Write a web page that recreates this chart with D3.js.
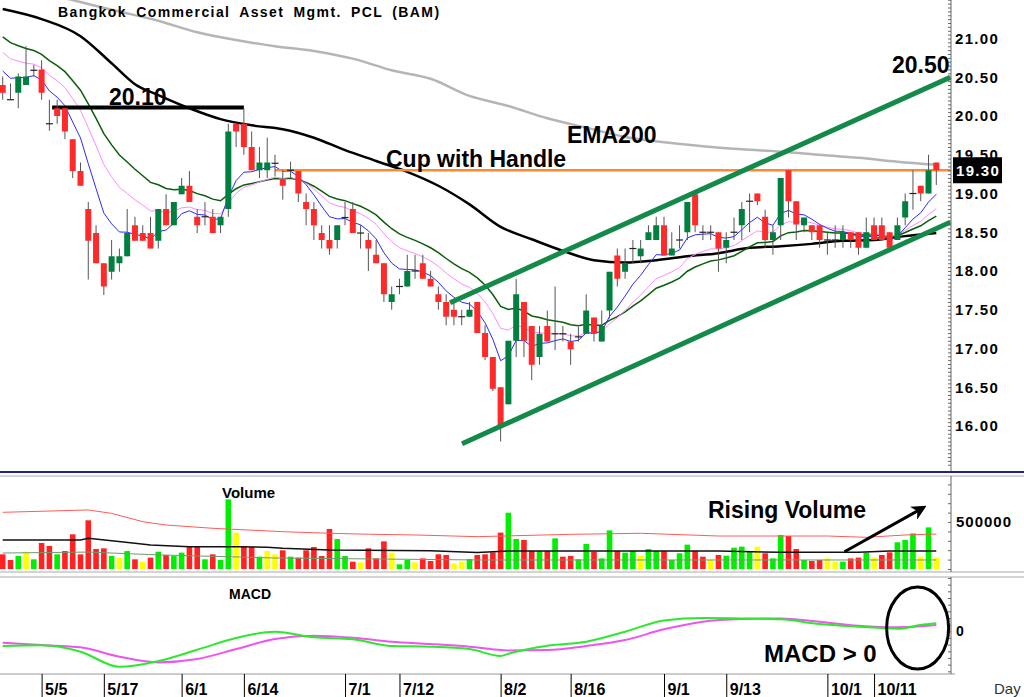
<!DOCTYPE html>
<html lang="en">
<head>
<meta charset="UTF-8">
<title>BAM daily chart</title>
<style>
  body { margin: 0; background: #fff; }
  svg { display: block; font-family: "Liberation Sans", Arial, sans-serif; }
  .axis text { font-weight: bold; fill: #000; }
</style>
</head>
<body>
<div id="chart"></div>
<script src="https://d3js.org/d3.v7.min.js"></script>
<script>
// candles (index 0 = first visible day)
const open = [20.40,20.21,20.30,20.40,20.59,20.60,19.90,20.10,20.10,19.70,19.29,18.80,18.49,18.10,17.99,18.10,18.19,18.59,18.49,18.49,
  18.39,18.80,18.59,18.99,19.10,18.70,18.70,18.70,18.59,18.80,19.90,19.90,19.60,19.30,19.30,19.39,19.18,19.30,19.29,18.89,
  18.80,18.49,18.40,18.40,18.69,18.80,18.49,18.40,18.21,18.10,17.60,17.80,17.80,18.00,18.10,17.90,17.70,17.60,17.50,17.41,
  17.41,17.60,17.20,16.89,16.50,16.28,17.10,17.60,17.29,16.89,17.29,17.19,17.19,17.09,17.15,17.19,17.40,17.09,17.49,18.20,
  17.99,18.29,18.19,18.40,18.40,18.59,18.20,18.40,18.50,18.99,18.50,18.50,18.50,18.30,18.50,18.59,18.90,19.00,18.70,18.40,
  18.59,19.30,18.90,18.59,18.59,18.59,18.40,18.40,18.40,18.50,18.50,18.30,18.59,18.59,18.50,18.40,18.69,19.00,19.10,19.00,19.40];
const high = [20.51,20.42,20.55,20.90,20.66,20.72,20.21,20.21,20.10,19.70,19.40,18.89,18.59,18.10,18.40,18.29,18.80,18.70,18.59,18.70,
  18.80,18.99,18.89,19.20,19.29,18.80,18.89,18.80,18.70,19.90,19.90,20.10,19.80,19.60,19.72,19.50,19.30,19.41,19.29,19.00,
  18.89,18.59,18.59,18.59,18.89,18.89,18.59,18.49,18.40,18.10,17.80,17.90,18.21,18.21,18.21,18.00,17.80,17.70,17.60,17.50,
  17.60,17.60,17.30,16.89,16.50,17.10,17.90,17.60,17.29,17.29,17.49,17.80,17.29,17.19,17.28,17.70,17.40,17.49,17.99,18.29,
  18.29,18.40,18.40,18.59,18.70,18.70,18.50,18.59,18.89,18.99,18.59,18.59,18.50,18.50,18.69,18.89,19.00,19.00,18.79,18.59,
  19.20,19.30,18.90,18.69,18.59,18.59,18.50,18.59,18.59,18.50,18.50,18.69,18.69,18.69,18.50,18.69,19.00,19.30,19.10,19.50,19.40];
const low = [20.21,20.21,20.10,20.40,20.51,20.21,19.81,19.90,19.70,19.20,19.10,17.89,18.10,17.69,17.89,17.99,18.19,18.39,18.39,18.29,
  18.29,18.59,18.59,18.99,18.89,18.49,18.59,18.49,18.49,18.70,19.60,19.50,19.30,19.20,19.20,19.22,18.92,19.20,18.89,18.59,
  18.40,18.29,18.21,18.29,18.59,18.49,18.29,18.00,18.10,17.60,17.50,17.70,17.80,17.90,17.90,17.80,17.50,17.30,17.30,17.30,
  17.41,17.20,16.85,16.45,15.80,16.28,16.89,16.89,16.59,16.79,17.09,16.98,17.09,16.79,17.09,17.19,17.09,17.09,17.39,17.80,
  17.90,18.10,18.10,18.40,18.40,18.20,18.20,18.29,18.40,18.50,18.40,18.40,17.99,18.10,18.40,18.40,18.50,18.85,18.30,18.21,
  18.40,18.69,18.40,18.50,18.40,18.30,18.21,18.30,18.30,18.30,18.21,18.30,18.40,18.40,18.30,18.40,18.59,18.79,18.90,19.00,19.11];
const close = [20.30,20.21,20.51,20.51,20.59,20.30,19.90,20.00,19.80,19.29,19.10,18.39,18.10,17.80,18.19,18.19,18.49,18.39,18.39,18.29,
  18.80,18.59,18.89,19.10,18.89,18.59,18.70,18.49,18.70,19.80,19.80,19.60,19.30,19.40,19.40,19.39,19.10,19.30,19.00,18.80,
  18.59,18.40,18.29,18.59,18.69,18.49,18.49,18.29,18.10,17.70,17.70,17.80,18.00,18.00,17.90,17.80,17.60,17.41,17.41,17.41,
  17.50,17.20,16.89,16.48,16.01,17.10,17.70,17.10,16.79,17.19,17.09,17.19,17.19,16.99,17.15,17.49,17.19,17.29,17.99,17.90,
  18.10,18.29,18.29,18.50,18.59,18.20,18.29,18.40,18.89,18.59,18.50,18.50,18.29,18.40,18.50,18.80,18.90,18.90,18.40,18.50,
  19.20,18.90,18.60,18.69,18.50,18.40,18.40,18.40,18.50,18.40,18.30,18.50,18.40,18.40,18.30,18.59,18.90,19.00,19.00,19.30,19.30];

// volume (shares) and bar colour code: r down, g up, y unchanged
const volume = [156,96,138,184,103,277,245,156,191,369,156,518,213,220,138,121,191,103,78,121,
  184,149,138,174,234,234,103,156,96,741,387,245,234,131,191,156,199,131,121,199,
  234,138,426,319,138,78,71,220,113,294,174,50,96,71,113,85,156,149,60,78,
  106,149,156,177,387,599,319,309,191,191,191,326,131,138,103,266,184,113,411,191,
  174,191,142,213,191,191,96,167,259,191,131,96,149,142,227,238,184,238,167,113,
  362,351,213,96,85,96,113,78,78,113,121,174,121,149,177,284,309,379,131,443,121].map(v => v * 1000);
const volColor = "rrgygrrgrr" + "rrrrgygryr" + "grggrrgrgg" + "yrrgyyrgrr" + "rrrggryrrr" + "yggyrrrryy" +
                 "grrrrggrrg" + "rgrrggrggr" + "ggyggrgggr" + "ryrggggyrg" + "grrgrryygr" + "rgyrrgggyg" + "y";

// long averages read at a few points (index, price)
const ema75Idx = [0,5,10,14,17,20,24,28,32,36,40,44,48,52,56,60,64,68,72,76,80,84,88,92,96,100,104,108,112,116,120];
const ema75Val = [21.38,21.25,21.03,20.68,20.41,20.27,20.10,19.96,19.88,19.83,19.72,19.56,19.42,19.28,19.10,18.86,18.57,18.41,18.26,18.14,18.11,18.14,18.19,18.23,18.30,18.32,18.35,18.39,18.40,18.45,18.49];
const ema200Idx = [6,10,14,20,25,30,35,40,45,50,55,60,65,70,75,80,85,90,95,100,105,110,115,120];
const ema200Val = [21.57,21.47,21.37,21.23,21.08,20.98,20.90,20.84,20.74,20.59,20.48,20.26,20.13,19.97,19.85,19.73,19.66,19.61,19.57,19.54,19.50,19.46,19.41,19.37];

// volume envelope lines
const volHiIdx = [0,11,14,18,21,27,36,42,47,53,61,73,82,92,106,111,116,120];
const volHi = [603,628,592,503,468,433,397,380,370,362,344,369,380,351,351,337,362,372].map(v => v * 1000);
const volMaIdx = [0,10,11,14,17,19,24,30,34,36,42,55,61,65,92,100,110,114,120];
const volMa = [308,308,326,300,273,255,237,237,231,220,202,195,176,191,191,178,178,191,191].map(v => v * 1000);
const volLoIdx = [0,11,20,35,61,120];
const volLo = [170,180,150,117,96,96].map(v => v * 1000);

// MACD and signal
const macdIdx = [0,5,10,15,20,25,30,35,40,45,50,55,60,64,65,70,75,80,85,90,95,100,105,110,115,118,120];
const macdVal = [-0.110,-0.105,-0.153,-0.266,-0.223,-0.138,-0.050,-0.003,-0.045,-0.060,-0.110,-0.115,-0.133,-0.185,-0.168,-0.108,-0.078,-0.003,0.082,0.100,0.097,0.090,0.055,0.035,0.020,0.047,0.060];
const signalIdx = [0,5,10,15,20,25,30,35,40,45,50,55,60,65,70,75,80,85,90,95,100,105,110,115,120];
const signalVal = [-0.085,-0.103,-0.120,-0.190,-0.233,-0.208,-0.133,-0.058,-0.033,-0.048,-0.078,-0.095,-0.115,-0.143,-0.140,-0.110,-0.065,0.015,0.072,0.092,0.097,0.072,0.042,0.030,0.047];

// date axis
const tickIdx = [5,13,23,31,44,51,64,73,85,93,106,112];
const tickLbl = ["5/5","5/17","6/1","6/14","7/1","7/12","8/2","8/16","9/1","9/13","10/1","10/11"];

// short EMAs seeded with the value shown on the first day
function ema(vals, n, seed) {
  const a = 2 / (n + 1);
  let e = seed;
  return vals.map((v, i) => i === 0 ? seed : (e = e + a * (v - e)));
}
const ema7 = ema(close, 7, 20.58);
const ema14 = ema(close, 14, 20.82);
const ema21 = ema(close, 21, 21.02);

const W = 1024, H = 697, axisX = 951;
const x = d3.scaleLinear().domain([0, 120]).range([2.7, 936.3]);
const y = d3.scaleLinear().domain([16, 21]).range([426, 38.5]);
const yV = d3.scaleLinear().domain([0, 500000]).range([569, 522]);
const yM = d3.scaleLinear().domain([-0.32, 0.40]).range([674, 578]);

const svg = d3.select("#chart").append("svg").attr("width", W).attr("height", H);

svg.append("defs").append("clipPath").attr("id", "priceClip")
  .append("rect").attr("x", 0).attr("y", 0).attr("width", axisX).attr("height", 471);
svg.select("defs").append("marker").attr("id", "arrow")
  .attr("viewBox", "0 0 10 10").attr("refX", 8).attr("refY", 5)
  .attr("markerWidth", 5).attr("markerHeight", 5).attr("orient", "auto")
  .append("path").attr("d", "M0,0 L10,5 L0,10 L3,5 z").attr("fill", "#000");

// panel frames
svg.append("line").attr("x1", 0).attr("x2", W).attr("y1", 472).attr("y2", 472).attr("stroke", "#23238c").attr("stroke-width", 2);
[476, 572, 577].forEach(v => svg.append("line").attr("x1", 0).attr("x2", W).attr("y1", v).attr("y2", v).attr("stroke", "#aaa"));
svg.append("line").attr("x1", 0).attr("x2", axisX + 4).attr("y1", 674).attr("y2", 674).attr("stroke", "#999");
[[0, 471], [476, 572], [577, 674]].forEach(r => svg.append("line").attr("x1", axisX).attr("x2", axisX)
  .attr("y1", r[0]).attr("y2", r[1]).attr("stroke", "#666"));

// ---------- price panel ----------
const price = svg.append("g").attr("clip-path", "url(#priceClip)");
const lineIdx = (ys) => d3.line().x((d, i) => x(i)).y((d) => ys(d));
const lineXY = (ys, curve) => d3.line().x(d => x(d[0])).y(d => ys(d[1])).curve(curve || d3.curveMonotoneX);

price.append("path").datum(d3.zip(ema200Idx, ema200Val)).attr("d", lineXY(y))
  .attr("fill", "none").attr("stroke", "#b5b5b5").attr("stroke-width", 2.5);
price.append("path").datum(d3.zip(ema75Idx, ema75Val)).attr("d", lineXY(y))
  .attr("fill", "none").attr("stroke", "#000").attr("stroke-width", 2.5);
price.append("path").datum(ema21).attr("d", lineIdx(y)).attr("fill", "none").attr("stroke", "#0b5e0b").attr("stroke-width", 1.5);
price.append("path").datum(ema14).attr("d", lineIdx(y)).attr("fill", "none").attr("stroke", "#ff8cff").attr("stroke-width", 1);
price.append("path").datum(ema7).attr("d", lineIdx(y)).attr("fill", "none").attr("stroke", "#2a2aff").attr("stroke-width", 1);

// resistance at 19.30 and old high 20.10
price.append("line").attr("x1", x(35)).attr("x2", axisX).attr("y1", y(19.30)).attr("y2", y(19.30))
  .attr("stroke", "#ff8a2e").attr("stroke-width", 2.5);
price.append("line").attr("x1", x(6.35)).attr("x2", x(31)).attr("y1", y(20.11)).attr("y2", y(20.11))
  .attr("stroke", "#000").attr("stroke-width", 4);

const candles = d3.range(close.length).map(i => ({ i, o: open[i], h: high[i], l: low[i], c: close[i] }));
const cg = price.append("g");
cg.selectAll("line.wick").data(candles).enter().append("line").attr("class", "wick")
  .attr("x1", d => x(d.i)).attr("x2", d => x(d.i)).attr("y1", d => y(d.h)).attr("y2", d => y(d.l))
  .attr("stroke", "#555").attr("stroke-width", 1);
cg.selectAll("rect").data(candles.filter(d => d.o !== d.c)).enter().append("rect")
  .attr("x", d => x(d.i) - 3).attr("width", 6)
  .attr("y", d => y(Math.max(d.o, d.c)))
  .attr("height", d => Math.max(1, y(Math.min(d.o, d.c)) - y(Math.max(d.o, d.c))))
  .attr("fill", d => d.c > d.o ? "#008040" : "#ff2a2a");
cg.selectAll("line.doji").data(candles.filter(d => d.o === d.c)).enter().append("line").attr("class", "doji")
  .attr("x1", d => x(d.i) - 3.5).attr("x2", d => x(d.i) + 3.5).attr("y1", d => y(d.o)).attr("y2", d => y(d.o))
  .attr("stroke", "#222").attr("stroke-width", 1.2);

// rising channel
const channel = [[[57.5, 17.59], [121.8, 20.50]], [[59.04, 15.77], [121.8, 18.63]]];
channel.forEach(seg => price.append("line")
  .attr("x1", x(seg[0][0])).attr("y1", y(seg[0][1])).attr("x2", x(seg[1][0])).attr("y2", y(seg[1][1]))
  .attr("stroke", "#13894a").attr("stroke-width", 5));

// price axis
const pAxisMinor = d3.axisLeft(y).tickValues(d3.range(15.5, 21.51, 0.05)).tickSize(3).tickFormat("");
svg.append("g").attr("transform", `translate(${axisX},0)`).call(pAxisMinor)
  .call(g => g.select(".domain").remove()).selectAll("line").attr("stroke", "#666");
const pAxis = d3.axisRight(y).tickValues(d3.range(16, 21.01, 0.5)).tickSize(0).tickPadding(4).tickFormat(d3.format(".2f"));
svg.append("g").attr("class", "axis").attr("transform", `translate(${axisX},0)`).call(pAxis)
  .call(g => g.select(".domain").remove())
  .selectAll("text").attr("font-size", 15).attr("letter-spacing", 1.3);

// last price box
svg.append("rect").attr("x", 953).attr("y", y(19.30) - 13).attr("width", 49).attr("height", 26).attr("fill", "#000");
svg.append("text").attr("x", 956).attr("y", y(19.30) + 6).attr("fill", "#fff").attr("font-size", 15)
  .attr("font-weight", "bold").attr("letter-spacing", 1.3).text("19.30");

// titles and notes
svg.append("text").attr("x", 58).attr("y", 17).attr("font-size", 14).attr("font-weight", "bold")
  .attr("letter-spacing", 1.4).attr("word-spacing", 4).text("Bangkok Commercial Asset Mgmt. PCL (BAM)");
const note = (tx, ty, t, size) => svg.append("text").attr("x", tx).attr("y", ty)
  .attr("font-size", size || 23).attr("font-weight", "bold").attr("fill", "#000").text(t);
note(109, 105, "20.10");
note(892, 73, "20.50");
note(567, 143, "EMA200");
note(386, 167, "Cup with Handle");

// ---------- volume panel ----------
const vg = svg.append("g");
const vcol = { r: "#ff2222", g: "#00ee00", y: "#ffff00" };
vg.selectAll("rect").data(volume).enter().append("rect")
  .attr("x", (d, i) => x(i) - 2.8).attr("width", 5.6)
  .attr("y", d => yV(d)).attr("height", d => yV(0) - yV(d))
  .attr("fill", (d, i) => vcol[volColor[i]]);
vg.append("path").datum(d3.zip(volHiIdx, volHi)).attr("d", lineXY(yV, d3.curveLinear))
  .attr("fill", "none").attr("stroke", "#ff5a5a").attr("stroke-width", 1);
vg.append("path").datum(d3.zip(volLoIdx, volLo)).attr("d", lineXY(yV, d3.curveLinear))
  .attr("fill", "none").attr("stroke", "#6f9a6f").attr("stroke-width", 1);
vg.append("path").datum(d3.zip(volMaIdx, volMa)).attr("d", lineXY(yV, d3.curveLinear))
  .attr("fill", "none").attr("stroke", "#111").attr("stroke-width", 1.5);

svg.append("g").attr("transform", `translate(${axisX},0)`)
  .call(d3.axisLeft(yV).tickValues(d3.range(0, 1000001, 100000).filter(v => yV(v) > 477)).tickSize(3).tickFormat(""))
  .call(g => g.select(".domain").remove()).selectAll("line").attr("stroke", "#666");
svg.append("g").attr("class", "axis").attr("transform", `translate(${axisX},0)`)
  .call(d3.axisRight(yV).tickValues([500000]).tickSize(0).tickPadding(5).tickFormat(d3.format("d")))
  .call(g => g.select(".domain").remove())
  .selectAll("text").attr("font-size", 15).attr("letter-spacing", 1);

note(222, 498, "Volume", 15);
note(708, 518, "Rising Volume");
svg.append("line").attr("x1", x(108.2)).attr("y1", yV(184000)).attr("x2", x(118.4)).attr("y2", yV(656000))
  .attr("stroke", "#000").attr("stroke-width", 3).attr("marker-end", "url(#arrow)");

// ---------- MACD panel ----------
svg.append("path").datum(d3.zip(signalIdx, signalVal)).attr("d", lineXY(yM))
  .attr("fill", "none").attr("stroke", "#ee55ee").attr("stroke-width", 2);
svg.append("path").datum(d3.zip(macdIdx, macdVal)).attr("d", lineXY(yM))
  .attr("fill", "none").attr("stroke", "#2de82d").attr("stroke-width", 2);

svg.append("g").attr("transform", `translate(${axisX},0)`)
  .call(d3.axisLeft(yM).tickValues(d3.range(-0.30, 0.41, 0.05)).tickSize(3).tickFormat(""))
  .call(g => g.select(".domain").remove()).selectAll("line").attr("stroke", "#666");
svg.append("g").attr("class", "axis").attr("transform", `translate(${axisX},0)`)
  .call(d3.axisRight(yM).tickValues([0]).tickSize(0).tickPadding(5).tickFormat(d3.format("d")))
  .call(g => g.select(".domain").remove())
  .selectAll("text").attr("font-size", 14);

note(229, 599, "MACD", 14);
note(764, 662, "MACD > 0", 24);
svg.append("ellipse").attr("cx", x(117.6)).attr("cy", yM(0.025)).attr("rx", 31).attr("ry", 41)
  .attr("fill", "none").attr("stroke", "#000").attr("stroke-width", 3);

// ---------- date axis ----------
const xAxis = d3.axisBottom(x).tickValues(tickIdx).tickSize(23).tickFormat((d, i) => tickLbl[i]);
svg.append("g").attr("class", "axis").attr("transform", "translate(0,674)").call(xAxis)
  .call(g => g.select(".domain").remove())
  .call(g => g.selectAll("line").attr("stroke", "#000"))
  .selectAll("text").attr("font-size", 16).attr("text-anchor", "start")
  .attr("x", 3).attr("y", 21).attr("dy", 0);
svg.append("text").attr("x", 994).attr("y", 694).attr("font-size", 15).attr("fill", "#333").text("Day");
</script>
</body>
</html>
